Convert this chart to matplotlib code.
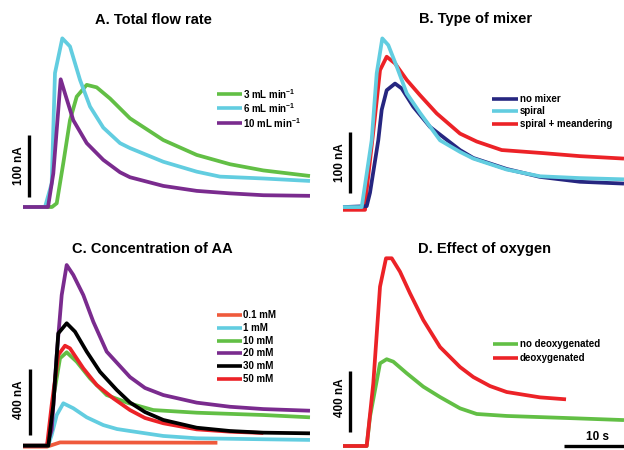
import matplotlib
matplotlib.use("Agg")
import matplotlib.pyplot as plt
from matplotlib.lines import Line2D

plt.rcParams['font.family'] = ['Liberation Sans', 'DejaVu Sans']
plt.rcParams['font.weight'] = 'bold'
plt.rcParams['mathtext.fontset'] = 'custom'
plt.rcParams['mathtext.rm'] = 'Liberation Sans:bold'
plt.rcParams['mathtext.bf'] = 'Liberation Sans:bold'
plt.rcParams['mathtext.default'] = 'bf'

# ---------------- data (time in s, current in nA) ----------------
# Panel A: total flow rate
a_labels = ["3 mL min$^{-1}$", "6 mL min$^{-1}$", "10 mL min$^{-1}$"]
a3_t = [0, 4.83, 5.62, 6.72, 7.83, 8.95, 10.62, 12.28, 14.5, 17.83, 23.38, 28.95, 34.5, 40.05, 47.83]
a3_i = [0, 0, 6, 71, 140, 178, 197, 193, 175, 143, 108, 84, 69, 59, 50]
a6_t = [0, 3.67, 4.78, 5.33, 6.55, 7.83, 9.5, 11.17, 13.38, 16.17, 17.83, 23.38, 28.95, 32.83, 40.05, 47.83]
a6_i = [0, 0, 38, 216, 272, 259, 205, 162, 128, 103, 95, 73, 57, 49, 46, 42]
a10_t = [0, 4.17, 5.05, 6.28, 7.0, 8.38, 10.62, 13.38, 16.17, 17.83, 23.38, 28.95, 34.5, 40.05, 47.83]
a10_i = [0, 0, 54, 206, 183, 140, 103, 76, 56, 48, 34, 26, 22, 19, 18]

# Panel B: type of mixer
b_labels = ["no mixer", "spiral", "spiral + meandering"]
bno_t = [0, 3.95, 4.5, 5.88, 6.45, 7.28, 8.67, 9.78, 11.72, 14.5, 19.5, 21.72, 27.28, 32.83, 39.5, 46.83]
bno_i = [1.5, 3, 25, 111, 161, 193, 204, 196, 166, 133, 95, 82, 64, 51, 43, 40]
bsp_t = [0, 3.12, 4.78, 5.62, 6.55, 7.55, 8.95, 10.62, 12.83, 16.17, 19.5, 21.72, 27.28, 32.83, 39.5, 46.83]
bsp_i = [1.5, 1.5, 111, 221, 278, 267, 232, 188, 156, 111, 92, 81, 63, 52, 49, 47]
bme_t = [0, 3.67, 3.95, 5.33, 6.17, 7.28, 8.67, 10.62, 12.83, 15.62, 19.5, 22.28, 26.45, 33.3, 39.5, 46.83]
bme_i = [-3, -3, 30, 150, 226, 248, 237, 210, 185, 155, 122, 109, 95, 90, 85, 81]

# Panel C: concentration of AA
c_labels = ["0.1 mM", "1 mM", "10 mM", "20 mM", "30 mM", "50 mM"]
c01_t = [0, 4.0, 6.17, 32.4]
c01_i = [-6, -6, 20, 18]
c1_t = [0, 4.17, 4.78, 5.62, 6.72, 8.38, 10.62, 13.38, 15.67, 17.83, 23.38, 28.95, 40.05, 47.83]
c1_i = [0, 0, 65, 186, 257, 227, 172, 125, 101, 89, 59, 45, 39, 35]
c10_t = [0, 4.17, 5.05, 6.17, 7.28, 8.95, 11.17, 13.95, 17.5, 21.72, 28.95, 40.05, 47.83]
c10_i = [0, 0, 287, 530, 566, 509, 408, 307, 259, 216, 200, 186, 172]
c20_t = [0, 3.95, 4.78, 5.62, 6.45, 7.28, 8.38, 10.05, 11.72, 13.95, 16.72, 17.83, 20.33, 23.38, 28.95, 34.5, 40.05, 47.83]
c20_i = [0, 0, 95, 550, 913, 1095, 1035, 913, 751, 570, 460, 416, 350, 307, 261, 236, 222, 212]
c30_t = [0, 4.22, 5.05, 5.88, 7.28, 8.67, 10.62, 12.83, 15.62, 17.83, 20.33, 23.38, 28.95, 34.5, 40.05, 47.83]
c30_i = [0, 0, 247, 681, 742, 691, 570, 448, 338, 262, 204, 156, 109, 89, 79, 75]
c50_t = [0, 4.0, 4.78, 5.88, 7.0, 7.83, 10.05, 12.28, 15.05, 17.83, 20.33, 23.38, 28.95, 34.5, 40.05]
c50_i = [0, 0, 247, 550, 606, 590, 469, 368, 287, 216, 168, 136, 99, 85, 77]

# Panel D: effect of oxygen
d_labels = ["no deoxygenated", "deoxygenated"]
dno_t = [0, 3.95, 4.5, 6.17, 7.28, 8.38, 10.62, 13.38, 16.17, 19.5, 22.28, 27.28, 38.38, 46.83]
dno_i = [0, 0, 192, 542, 569, 553, 477, 389, 321, 247, 210, 197, 182, 170]
dde_t = [0, 3.95, 5.05, 6.17, 7.17, 8.12, 9.5, 11.17, 13.38, 16.17, 19.5, 21.72, 24.5, 27.28, 32.83, 37.17]
dde_i = [0, 0, 411, 1045, 1231, 1231, 1143, 1001, 826, 649, 518, 452, 393, 354, 319, 306]

# ---------------- styling ----------------
GREEN = '#62bf45'
CYAN = '#62cde0'
PURPLE = '#7a2b8e'
NAVY = '#262680'
RED = '#ec2227'
BLACK = '#000000'
ORANGE = '#ef5a3c'
LW = 2.7

W, H = 624, 450
fig = plt.figure(figsize=(W / 100, H / 100), dpi=100)
fig.patch.set_facecolor('white')


def make_axes(pl, pr, pt, pb, x0, base, pps, ppu):
    ax = fig.add_axes([pl / W, 1 - pb / H, (pr - pl) / W, (pb - pt) / H])
    ax.set_xlim((pl - x0) / pps, (pr - x0) / pps)
    ax.set_ylim((base - pb) / ppu, (base - pt) / ppu)
    ax.axis('off')
    return ax


def fx(px):
    return px / W


def fy(py):
    return 1 - py / H


def legend(x1, x2, ys, colors, labels, size=7):
    for y, c, lab in zip(ys, colors, labels):
        fig.add_artist(Line2D([fx(x1), fx(x2)], [fy(y), fy(y)], color=c, lw=2.6,
                              solid_capstyle='butt', transform=fig.transFigure))
        fig.text(fx(x2 + 1.5), fy(y), lab, fontsize=size, fontweight='bold',
                 va='center', ha='left')


def draw(ax, series):
    for t, i, c in series:
        ax.plot(t, i, color=c, lw=LW, clip_on=False,
                solid_joinstyle='round', solid_capstyle='butt')


# Panel A
axA = make_axes(0, 312, 30, 215, 23, 207, 6, 0.62)
draw(axA, [(a3_t, a3_i, GREEN), (a6_t, a6_i, CYAN), (a10_t, a10_i, PURPLE)])
axA.plot([1.0, 1.0], [16, 116], color='black', lw=2.4, solid_capstyle='butt', clip_on=False)
fig.text(fx(19), fy(166), "100 nA", rotation=90, fontsize=8.5, fontweight='bold', ha='center', va='center')
fig.text(fx(153), fy(20), "A. Total flow rate", fontsize=10.5, fontweight='bold', ha='center', va='center')
legend(216.7, 241.7, [94.3, 108.3, 123.3], [GREEN, CYAN, PURPLE], a_labels)

# Panel B
axB = make_axes(312, 624, 30, 215, 343, 208, 6, 0.61)
draw(axB, [(bme_t, bme_i, RED), (bno_t, bno_i, NAVY), (bsp_t, bsp_i, CYAN)])
axB.plot([1.17, 1.17], [24.6, 124.6], color='black', lw=2.4, solid_capstyle='butt', clip_on=False)
fig.text(fx(340), fy(163), "100 nA", rotation=90, fontsize=8.5, fontweight='bold', ha='center', va='center')
fig.text(fx(476), fy(19), "B. Type of mixer", fontsize=10.5, fontweight='bold', ha='center', va='center')
legend(491.7, 518.3, [99, 111, 124.3], [NAVY, CYAN, RED], b_labels)

# Panel C
axC = make_axes(0, 312, 255, 450, 23, 445.7, 6, 0.165)
draw(axC, [(c01_t, c01_i, ORANGE), (c1_t, c1_i, CYAN), (c10_t, c10_i, GREEN),
           (c20_t, c20_i, PURPLE), (c50_t, c50_i, RED), (c30_t, c30_i, BLACK)])
axC.plot([1.17, 1.17], [65, 465], color='black', lw=2.4, solid_capstyle='butt', clip_on=False)
fig.text(fx(19), fy(400), "400 nA", rotation=90, fontsize=8.5, fontweight='bold', ha='center', va='center')
fig.text(fx(152.5), fy(249), "C. Concentration of AA", fontsize=10.5, fontweight='bold', ha='center', va='center')
legend(216.7, 241.7, [315, 328.3, 341, 353.3, 365.7, 379],
       [ORANGE, CYAN, GREEN, PURPLE, BLACK, RED], c_labels)

# Panel D
axD = make_axes(312, 624, 250, 450, 343, 446, 6, 0.1525)
draw(axD, [(dno_t, dno_i, GREEN), (dde_t, dde_i, RED)])
axD.plot([1.17, 1.17], [90, 490], color='black', lw=2.4, solid_capstyle='butt', clip_on=False)
axD.plot([36.8, 46.8], [0, 0], color='black', lw=2.4, solid_capstyle='butt', clip_on=False)
fig.text(fx(598), fy(437), "10 s", fontsize=8.5, fontweight='bold', ha='center', va='center')
fig.text(fx(340), fy(398), "400 nA", rotation=90, fontsize=8.5, fontweight='bold', ha='center', va='center')
fig.text(fx(484), fy(249), "D. Effect of oxygen", fontsize=10.5, fontweight='bold', ha='center', va='center')
legend(492.7, 518.3, [344.3, 357.7], [GREEN, RED], d_labels)

fig.savefig("out.png", dpi=100, facecolor='white')
